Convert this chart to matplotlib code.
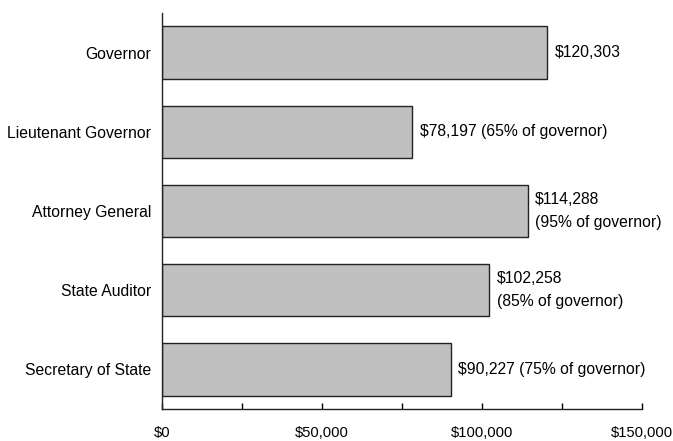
import matplotlib
matplotlib.use("Agg")
import matplotlib.pyplot as plt
from matplotlib.ticker import FuncFormatter

positions = ["Governor", "Lieutenant Governor", "Attorney General",
             "State Auditor", "Secretary of State"]
salaries = [120303, 78197, 114288, 102258, 90227]
notes = ["$120,303", "$78,197 (65% of governor)", "$114,288\n(95% of governor)",
         "$102,258\n(85% of governor)", "$90,227 (75% of governor)"]

plt.rcParams["font.family"] = ["Liberation Sans Narrow", "Liberation Sans", "DejaVu Sans"]

fig = plt.figure(figsize=(6.73, 4.41), dpi=100)
ax = fig.add_axes([0.2407, 0.0726, 0.7133, 0.898])

y = list(range(len(positions)))
ax.barh(y, salaries, height=0.66, color="#c0c0c0", edgecolor="#222222", linewidth=1)

for yi, val, txt in zip(y, salaries, notes):
    ax.text(val + 2300, yi, txt, va="center", ha="left", fontsize=11.3, linespacing=1.65)

ax.set_ylim(len(positions) - 0.5, -0.5)
ax.set_xlim(0, 150000)
ax.set_yticks(y)
ax.set_yticklabels(positions, fontsize=11.3)
ax.tick_params(axis="y", length=0, pad=8)
ax.set_xticks(range(0, 150001, 25000))
ax.xaxis.set_major_formatter(FuncFormatter(lambda v, p: f"${v:,.0f}" if v % 50000 == 0 else ""))
ax.tick_params(axis="x", direction="in", length=4, pad=12, labelsize=10.6, width=1)

for s in ["top", "right"]:
    ax.spines[s].set_visible(False)
for s in ["left", "bottom"]:
    ax.spines[s].set_color("#222222")
    ax.spines[s].set_linewidth(1)

fig.savefig("out.png", dpi=100)
